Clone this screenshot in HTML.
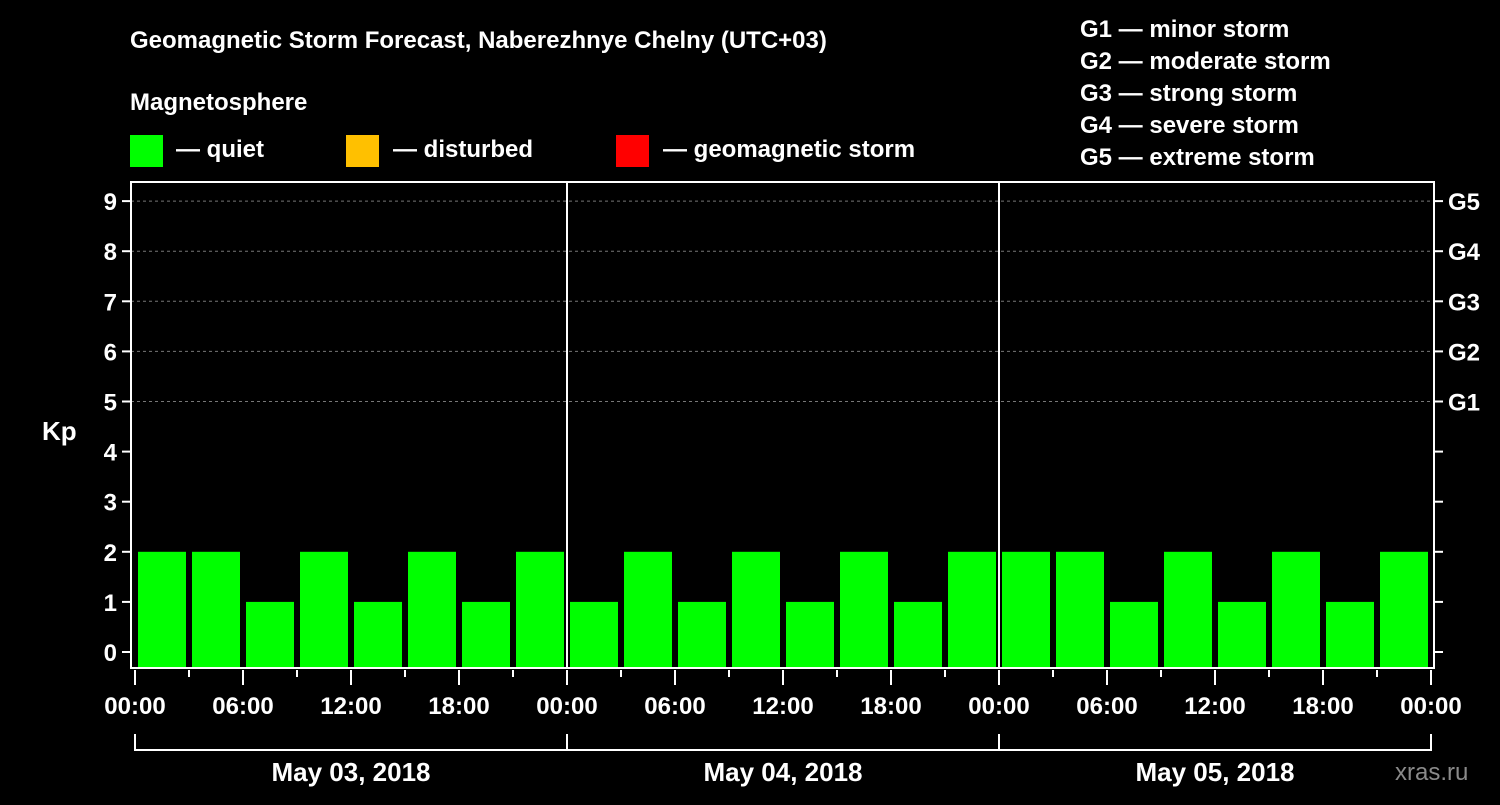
<!DOCTYPE html>
<html><head><meta charset="utf-8"><style>
body{margin:0;background:#000;width:1500px;height:800px;overflow:hidden;font-family:"Liberation Sans",sans-serif}
svg text{font-family:"Liberation Sans",sans-serif;font-weight:bold;fill:#fff}
</style></head><body>
<svg width="1500" height="800">
<rect width="1500" height="800" fill="#000"/>
<text x="130" y="48" font-size="24">Geomagnetic Storm Forecast, Naberezhnye Chelny (UTC+03)</text>
<text x="130" y="110" font-size="24">Magnetosphere</text>
<g><rect x="130" y="135" width="33" height="32" fill="#00ff00"/><text x="176" y="157" font-size="24">— quiet</text></g>
<g><rect x="346" y="135" width="33" height="32" fill="#ffc000"/><text x="393" y="157" font-size="24">— disturbed</text></g>
<g><rect x="616" y="135" width="33" height="32" fill="#ff0000"/><text x="663" y="157" font-size="24">— geomagnetic storm</text></g>
<g font-size="24">
<text x="1080" y="37">G1 — minor storm</text><text x="1080" y="69">G2 — moderate storm</text><text x="1080" y="101">G3 — strong storm</text><text x="1080" y="133">G4 — severe storm</text><text x="1080" y="165">G5 — extreme storm</text></g>
<text x="42" y="440" font-size="26">Kp</text>
<text x="1395" y="780" font-size="24" fill="#888" style="fill:#8a8a8a;font-weight:normal">xras.ru</text>
<g id="grid"></g><g id="bars"></g><g id="axes"></g>
</svg>
<script>
const days=["May 03, 2018","May 04, 2018","May 05, 2018"];
const kpValues=[2,2,1,2,1,2,1,2, 1,2,1,2,1,2,1,2, 2,2,1,2,1,2,1,2];
const yTicks=[0,1,2,3,4,5,6,7,8,9];
const gLabels=["G1","G2","G3","G4","G5"];
const hourLabels=["00:00","06:00","12:00","18:00"];
const NS="http://www.w3.org/2000/svg";
const X0=135,SLOT=54,DAYW=432,BOT=668,L=131,R=1434,T=182;
const y=v=>652-v*50.1;
const x=i=>X0+i*SLOT;
function mk(tag,attrs,parent,txt){const e=document.createElementNS(NS,tag);for(const k in attrs)e.setAttribute(k,attrs[k]);if(txt!=null)e.textContent=txt;parent.appendChild(e);return e;}
const grid=document.getElementById('grid'),bars=document.getElementById('bars'),axes=document.getElementById('axes');
yTicks.forEach(v=>{
 if(v>=5){const g=mk('line',{x1:L,x2:R,y1:y(v),y2:y(v),stroke:'#777','stroke-dasharray':'3,3','stroke-width':1},grid);
 
 }
 const t=mk('line',{x1:L-9,x2:L,y1:y(v),y2:y(v),stroke:'#fff','stroke-width':2},axes);
 
 
 const r=mk('line',{x1:R,x2:R+9,y1:y(v),y2:y(v),stroke:'#fff','stroke-width':2},axes);
 
 
 const lb=mk('text',{x:L-14,y:y(v)+9,'font-size':24,'text-anchor':'end'},axes,String(v));
 
 
});
gLabels.forEach((g,i)=>{const lb=mk('text',{x:1448,y:y(5+i)+9,'font-size':24},axes,g);
 
 });
kpValues.forEach((v,i)=>{
 const col=v>=5?'#ff0000':(v>=4?'#ffc000':'#00ff00');
 const b=mk('rect',{x:x(i)+3,y:y(v),width:48,height:BOT-y(v),fill:col},bars);
 
 
});
const frame=mk('rect',{x:L,y:T,width:R-L,height:BOT-T,fill:'none',stroke:'#fff','stroke-width':2},axes);


days.forEach((d,di)=>{
 if(di>0){const s=mk('line',{x1:X0+di*DAYW,x2:X0+di*DAYW,y1:T,y2:BOT,stroke:'#fff','stroke-width':2},axes);
 
 }
 const br=mk('path',{d:`M${X0+di*DAYW} 734V750H${X0+(di+1)*DAYW}V734`,fill:'none',stroke:'#fff','stroke-width':2},axes);
 
 
 const dl=mk('text',{x:X0+di*DAYW+DAYW/2,y:781,'font-size':26,'text-anchor':'middle'},axes,d);
 
 
});
for(let i=0;i<=24;i++){
 const major=i%2===0;
 const t=mk('line',{x1:x(i),x2:x(i),y1:BOT+2,y2:BOT+(major?17:9),stroke:'#fff','stroke-width':2},axes);
 
 
 if(major){const lb=mk('text',{x:x(i),y:714,'font-size':24,'text-anchor':'middle'},axes,i===24?"00:00":hourLabels[(i/2)%4]);
 
 }
}
</script>
</body></html>
